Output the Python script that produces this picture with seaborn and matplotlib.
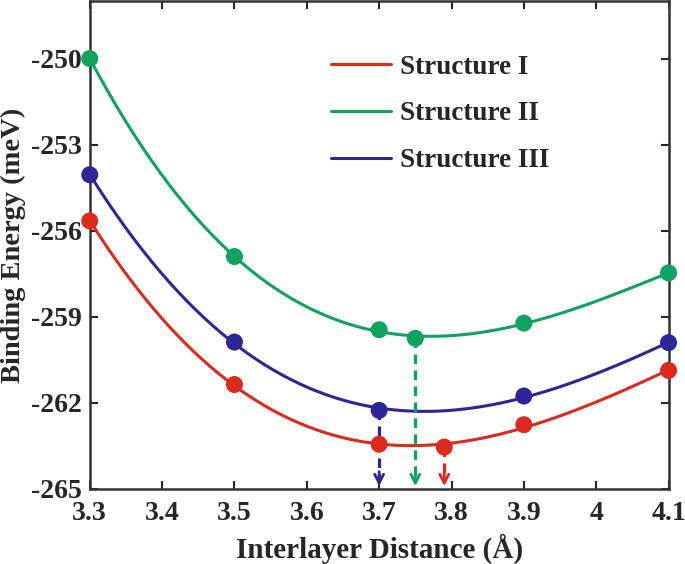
import numpy as np
import pandas as pd
import matplotlib
matplotlib.use("Agg")
import matplotlib.pyplot as plt
import seaborn as sns

# data
dist_1 = [3.3, 3.5, 3.7, 3.79, 3.9, 4.1]
energy_1 = [-255.66, -261.36, -263.44, -263.54, -262.76, -260.87]
dist_2 = [3.3, 3.5, 3.7, 3.75, 3.9, 4.1]
energy_2 = [-250.0, -256.9, -259.45, -259.75, -259.22, -257.47]
dist_3 = [3.3, 3.5, 3.7, 3.9, 4.1]
energy_3 = [-254.05, -259.88, -262.26, -261.76, -259.9]
names = ["Structure I", "Structure II", "Structure III"]
colors = ["#DD2A1E", "#10A25E", "#2E2596"]
# equilibrium distances marked by arrows
eq_x = [3.79, 3.75, 3.7]
eq_y = [-263.54, -259.75, -262.26]

sns.set_style("ticks")
plt.rcParams["font.family"] = ["Liberation Serif", "DejaVu Serif"]
plt.rcParams["font.weight"] = "bold"
plt.rcParams["axes.unicode_minus"] = False

fig = plt.figure(figsize=(6.85, 5.64), dpi=100)
ax = fig.add_axes([0.131, 0.133, 0.845, 0.865])

series = [(dist_1, energy_1), (dist_2, energy_2), (dist_3, energy_3)]
for (xs, ys), name, c in zip(series, names, colors):
    # smooth fitted curve through the points
    p = np.polyfit(xs, ys, 3)
    xf = np.linspace(3.3, 4.1, 200)
    fit = pd.DataFrame({"x": xf, "y": np.polyval(p, xf)})
    sns.lineplot(data=fit, x="x", y="y", ax=ax, color=c, lw=2.2, label=name)
    pts = pd.DataFrame({"x": xs, "y": ys})
    sns.scatterplot(data=pts, x="x", y="y", ax=ax, color=c, s=150,
                    edgecolor="none", clip_on=False, zorder=5, legend=False)

for x0, y0, c in zip(eq_x, eq_y, colors):
    ax.plot([x0, x0], [y0, -264.7], ls=(0, (3, 2)), color=c, lw=2.3, zorder=4)
    ax.annotate("", xy=(x0, -265), xytext=(x0, -264.3),
                arrowprops=dict(arrowstyle="->", color=c, lw=2.0,
                                mutation_scale=16))

ax.set_xlim(3.3, 4.1)
ax.set_ylim(-265, -248)
ax.set_xticks([3.3, 3.4, 3.5, 3.6, 3.7, 3.8, 3.9, 4.0, 4.1])
ax.set_xticklabels(["3.3", "3.4", "3.5", "3.6", "3.7", "3.8", "3.9", "4", "4.1"])
ax.set_yticks([-265, -262, -259, -256, -253, -250])
ax.tick_params(direction="in", length=6, width=1.5, labelsize=20,
               top=True, right=True, colors="#262626", labelcolor="#262626")
ax.tick_params(axis="x", pad=9)
ax.tick_params(axis="y", pad=6)
for s in ax.spines.values():
    s.set_linewidth(1.8)
    s.set_color("#333333")
    s.set_visible(True)

ax.set_xlabel("Interlayer Distance (Å)", fontsize=21, fontweight="bold",
              color="#262626", labelpad=5)
ax.set_ylabel("Binding Energy (meV)", fontsize=20.5, fontweight="bold",
              color="#262626")
ax.yaxis.set_label_coords(-0.11, 0.5)

leg = ax.legend(loc="upper left", bbox_to_anchor=(0.375, 0.94), frameon=False,
                fontsize=19.5, handlelength=2.2, handletextpad=0.35,
                labelspacing=0.8)
for t in leg.get_texts():
    t.set_fontweight("bold")

fig.savefig("out.png", dpi=100)
